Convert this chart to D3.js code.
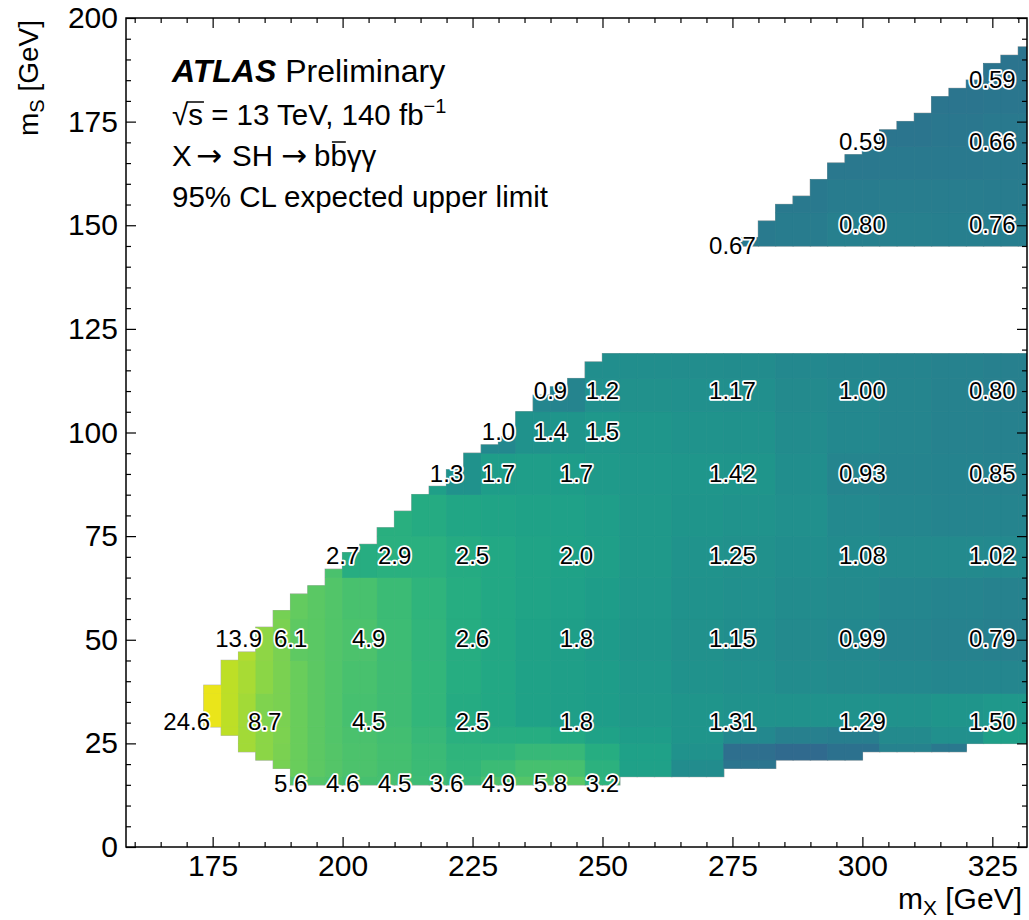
<!DOCTYPE html>
<html>
<head>
<meta charset="utf-8">
<script src="https://cdn.jsdelivr.net/npm/d3@7"></script>
<style>
  body { margin: 0; background: #fff; }
  svg text { font-family: "Liberation Sans", Arimo, Helvetica, Arial, sans-serif; fill: #000; }
</style>
</head>
<body>
<svg id="chart" width="1029" height="920"></svg>
<script>
// ---------------- scan grid (mX columns, GeV) ----------------
const mxEdges = [173.33, 176.67, 180.00, 183.33, 186.67, 190.00, 193.33, 196.67, 200.00, 203.33,
                 206.67, 210.00, 213.33, 216.67, 220.00, 223.33, 226.67, 230.00, 233.33, 236.67,
                 240.00, 243.33, 246.67, 250.00, 253.33, 256.67, 260.00, 263.33, 266.67, 270.00,
                 273.33, 276.67, 280.00, 283.33, 286.67, 290.00, 293.33, 296.67, 300.00, 303.33,
                 306.67, 310.00, 313.33, 316.67, 320.00, 323.33, 326.67, 330.00, 333.33];

// lower block: mS range covered in each mX column
const lowerFrom = [29, 27, 23, 21, 19, 15, 15, 15, 15, 15, 15, 15, 15, 15, 15, 15, 15, 15, 15, 15,
                   15, 15, 15, 15, 17, 17, 17, 17, 17, 17, 19, 19, 19, 21, 21, 21, 21, 21, 23, 23,
                   23, 23, 23, 23, 25, 25, 25, 25];
const lowerTo   = [39, 45, 47, 53, 57, 61, 63, 67, 71, 73, 77, 81, 85, 87, 91, 95, 97, 99, 105, 109,
                   111, 113, 117, 119, 119, 119, 119, 119, 119, 119, 119, 119, 119, 119, 119, 119, 119, 119, 119, 119,
                   119, 119, 119, 119, 119, 119, 119, 119];

// upper block (high mS) columns
const upperEdges = [276.67, 280.00, 283.33, 286.67, 290.00, 293.33, 296.67, 300.00, 303.33,
                    306.67, 310.00, 313.33, 316.67, 320.00, 323.33, 326.67, 330.00, 333.33];
const upperFrom  = [145, 145, 145, 145, 145, 145, 145, 145, 145, 145, 145, 145, 145, 145, 145, 145, 145];
const upperTo    = [147, 151, 155, 157, 161, 165, 167, 169, 173, 175, 177, 181, 183, 185, 189, 191, 193];

// ---------------- expected limit map ----------------
// lower block: limit values on (mX band) x (mS band) tiles
const limitMxBands = [173.33, 176.67, 180.00, 183.33, 186.67, 190.00, 193.33, 196.67, 200.00, 206.67,
                      213.33, 220.00, 226.67, 233.33, 240.00, 246.67, 253.33, 263.33, 273.33, 283.33,
                      293.33, 303.33, 313.33, 323.33, 333.33];
const limitMsBands = [15, 17, 21, 25, 29, 37, 45, 55, 65, 75, 85, 95, 105, 113, 119];
const n = null;
const limitGrid = [
  /* 15-17  */ [n, n, n, n, n, 5.6, 5.4, 5.0, 4.6, 4.5, 4.0, 3.6, 4.9, 5.4, 5.8, 3.2, n, n, n, n, n, n, n, n],
  /* 17-21  */ [n, n, n, n, 8.0, 7.0, 6.0, 5.4, 4.9, 4.4, 3.9, 3.4, 3.9, 4.5, 4.6, 3.0, 1.9, 1.1, 0.6, n, n, n, n, n],
  /* 21-25  */ [n, n, 12.5, 9.8, 8.2, 7.0, 6.0, 5.4, 4.9, 4.4, 3.8, 3.2, 3.2, 3.6, 3.6, 2.6, 1.9, 1.3, 0.5, 0.45, 0.55, 0.85, 0.65, n],
  /* 25-29  */ [n, 16, 12.5, 9.8, 8.4, 7.0, 6.0, 5.3, 4.8, 4.3, 3.6, 2.9, 2.7, 2.6, 2.4, 2.0, 1.7, 1.4, 1.0, 0.8, 0.75, 1.05, 1.2, 1.8],
  /* 29-37  */ [24, 16, 12.5, 8.7, 8.2, 7.0, 6.0, 5.3, 4.5, 4.1, 3.4, 2.5, 2.3, 2.0, 1.8, 1.7, 1.55, 1.4, 1.31, 1.3, 1.29, 1.32, 1.4, 1.50],
  /* 37-45  */ [24, 16, 13, 9.8, 8.2, 7.0, 6.0, 5.3, 4.7, 4.1, 3.4, 2.6, 2.3, 2.0, 1.8, 1.7, 1.5, 1.3, 1.2, 1.1, 1.05, 1.0, 0.95, 0.95],
  /* 45-55  */ [n, n, 13.9, 10, 8.2, 6.1, 5.8, 5.3, 4.9, 4.0, 3.3, 2.6, 2.3, 2.0, 1.8, 1.65, 1.45, 1.25, 1.15, 1.05, 0.99, 0.9, 0.85, 0.79],
  /* 55-65  */ [n, n, n, n, 7.8, 6.5, 5.8, 5.3, 4.7, 3.9, 3.2, 2.6, 2.3, 2.1, 1.9, 1.7, 1.5, 1.3, 1.2, 1.1, 1.03, 0.95, 0.9, 0.85],
  /* 65-75  */ [n, n, n, n, n, n, n, 4.8, 2.7, 2.9, 2.9, 2.5, 2.3, 2.1, 2.0, 1.8, 1.55, 1.35, 1.25, 1.15, 1.08, 1.05, 1.03, 1.02],
  /* 75-85  */ [n, n, n, n, n, n, n, n, n, 2.8, 2.5, 2.2, 2.1, 2.0, 1.9, 1.75, 1.55, 1.4, 1.35, 1.2, 1.02, 0.95, 0.9, 0.9],
  /* 85-95  */ [n, n, n, n, n, n, n, n, n, n, 1.8, 1.3, 1.7, 1.75, 1.7, 1.6, 1.5, 1.45, 1.42, 1.15, 0.93, 0.9, 0.87, 0.85],
  /* 95-105 */ [n, n, n, n, n, n, n, n, n, n, n, n, 1.0, 1.3, 1.4, 1.5, 1.45, 1.35, 1.3, 1.1, 1.0, 0.92, 0.85, 0.82],
  /* 105-113*/ [n, n, n, n, n, n, n, n, n, n, n, n, n, 0.95, 0.9, 1.2, 1.25, 1.2, 1.17, 1.05, 1.00, 0.92, 0.85, 0.80],
  /* 113-119*/ [n, n, n, n, n, n, n, n, n, n, n, n, n, n, n, 1.15, 1.15, 1.12, 1.1, 1.0, 0.95, 0.9, 0.85, 0.8]
];
// upper block tiles
const upperMxBands = [276.67, 283.33, 293.33, 303.33, 313.33, 323.33, 333.33];
const upperMsBands = [145, 153, 161, 169, 177, 185, 195];
const upperGrid = [
  /* 145-153 */ [0.68, 0.72, 0.80, 0.80, 0.78, 0.76],
  /* 153-161 */ [n, 0.66, 0.72, 0.74, 0.73, 0.72],
  /* 161-169 */ [n, n, 0.64, 0.66, 0.67, 0.68],
  /* 169-177 */ [n, n, n, 0.60, 0.63, 0.66],
  /* 177-185 */ [n, n, n, n, 0.60, 0.62],
  /* 185-195 */ [n, n, n, n, n, 0.59]
];

// printed limits at the scan points
const labelMx   = [170, 185, 205, 225, 245, 275, 300, 325,
                   180, 190, 205, 225, 245, 275, 300, 325,
                   200, 210, 225, 245, 275, 300, 325,
                   220, 230, 245, 275, 300, 325,
                   230, 240, 250,
                   240, 250, 275, 300, 325,
                   190, 200, 210, 220, 230, 240, 250,
                   275, 300, 325, 300, 325, 325];
const labelMs   = [30, 30, 30, 30, 30, 30, 30, 30,
                   50, 50, 50, 50, 50, 50, 50, 50,
                   70, 70, 70, 70, 70, 70, 70,
                   90, 90, 90, 90, 90, 90,
                   100, 100, 100,
                   110, 110, 110, 110, 110,
                   15, 15, 15, 15, 15, 15, 15,
                   145, 150, 150, 170, 170, 185];
const labelText = ["24.6", "8.7", "4.5", "2.5", "1.8", "1.31", "1.29", "1.50",
                   "13.9", "6.1", "4.9", "2.6", "1.8", "1.15", "0.99", "0.79",
                   "2.7", "2.9", "2.5", "2.0", "1.25", "1.08", "1.02",
                   "1.3", "1.7", "1.7", "1.42", "0.93", "0.85",
                   "1.0", "1.4", "1.5",
                   "0.9", "1.2", "1.17", "1.00", "0.80",
                   "5.6", "4.6", "4.5", "3.6", "4.9", "5.8", "3.2",
                   "0.67", "0.80", "0.76", "0.59", "0.66", "0.59"];

// axes
const xDomain = [158.33, 331.67];
const yDomain = [0, 200];
const xMajorTicks = [175, 200, 225, 250, 275, 300, 325];
const yMajorTicks = [0, 25, 50, 75, 100, 125, 150, 175, 200];

// ---------------- drawing ----------------
const plot = { left: 126, right: 1027, top: 18, bottom: 847 };
const svg = d3.select("#chart");

const x = d3.scaleLinear().domain(xDomain).range([plot.left, plot.right]);
const y = d3.scaleLinear().domain(yDomain).range([plot.bottom, plot.top]);
const color = d3.scaleSequentialLog(d3.interpolateViridis).domain([0.05, 30]);

svg.append("defs").append("clipPath").attr("id", "plotClip")
  .append("rect").attr("x", plot.left).attr("y", plot.top)
  .attr("width", plot.right - plot.left).attr("height", plot.bottom - plot.top);

const mapLayer = svg.append("g").attr("clip-path", "url(#plotClip)");
const outlineLayer = mapLayer.append("g");
const cellLayer = mapLayer.append("g");

function drawBlock(edges, from, to, mxBands, msBands, grid) {
  for (let i = 0; i < from.length; i++) {
    const x0 = edges[i], x1 = edges[i + 1];
    // thin grey rim around the covered region
    outlineLayer.append("rect")
      .attr("x", x(x0) - 0.7).attr("y", y(to[i]) - 0.7)
      .attr("width", x(x1) - x(x0) + 1.4).attr("height", y(from[i]) - y(to[i]) + 1.4)
      .attr("fill", "#b0b0b0");
    const ci = d3.bisectRight(mxBands, (x0 + x1) / 2) - 1;
    for (let b = 0; b < msBands.length - 1; b++) {
      const lo = Math.max(from[i], msBands[b]);
      const hi = Math.min(to[i], msBands[b + 1]);
      if (hi <= lo) continue;
      const v = grid[b][ci];
      if (v == null) continue;
      cellLayer.append("rect")
        .attr("x", x(x0)).attr("y", y(hi))
        .attr("width", x(x1) - x(x0)).attr("height", y(lo) - y(hi))
        .attr("fill", color(v)).attr("stroke", color(v)).attr("stroke-width", 0.6);
    }
  }
}
drawBlock(mxEdges, lowerFrom, lowerTo, limitMxBands, limitMsBands, limitGrid);
drawBlock(upperEdges, upperFrom, upperTo, upperMxBands, upperMsBands, upperGrid);

// value labels with white halo
svg.append("g").selectAll("text")
  .data(labelText.map((t, i) => ({ t, mx: labelMx[i], ms: labelMs[i] })))
  .join("text")
  .attr("x", d => x(d.mx)).attr("y", d => y(d.ms) - 1)
  .attr("dy", "0.36em")
  .attr("text-anchor", "middle")
  .attr("font-size", 24)
  .attr("stroke", "#fff").attr("stroke-width", 3.5).attr("stroke-linejoin", "round")
  .attr("paint-order", "stroke")
  .text(d => d.t);

// ---------------- axes: inward ticks on all four sides ----------------
const xMinor = d3.range(160, 332, 5).filter(v => !xMajorTicks.includes(v));
const yMinor = d3.range(0, 201, 5).filter(v => !yMajorTicks.includes(v));

function styleAxis(g) {
  g.select(".domain").remove();
  g.selectAll("line").attr("stroke", "#000").attr("stroke-width", 1.2);
  g.attr("font-family", null).attr("font-size", 30);
}
svg.append("g").attr("transform", `translate(0,${plot.bottom})`)
  .call(d3.axisBottom(x).tickValues(xMajorTicks).tickSize(-10).tickPadding(8).tickFormat(d3.format("d")))
  .call(styleAxis);
svg.append("g").attr("transform", `translate(0,${plot.bottom})`)
  .call(d3.axisBottom(x).tickValues(xMinor).tickSize(-5).tickFormat(""))
  .call(styleAxis);
svg.append("g").attr("transform", `translate(0,${plot.top})`)
  .call(d3.axisTop(x).tickValues(xMajorTicks).tickSize(-10).tickFormat(""))
  .call(styleAxis);
svg.append("g").attr("transform", `translate(0,${plot.top})`)
  .call(d3.axisTop(x).tickValues(xMinor).tickSize(-5).tickFormat(""))
  .call(styleAxis);
svg.append("g").attr("transform", `translate(${plot.left},0)`)
  .call(d3.axisLeft(y).tickValues(yMajorTicks).tickSize(-10).tickPadding(8).tickFormat(d3.format("d")))
  .call(styleAxis);
svg.append("g").attr("transform", `translate(${plot.left},0)`)
  .call(d3.axisLeft(y).tickValues(yMinor).tickSize(-5).tickFormat(""))
  .call(styleAxis);
svg.append("g").attr("transform", `translate(${plot.right},0)`)
  .call(d3.axisRight(y).tickValues(yMajorTicks).tickSize(-10).tickFormat(""))
  .call(styleAxis);
svg.append("g").attr("transform", `translate(${plot.right},0)`)
  .call(d3.axisRight(y).tickValues(yMinor).tickSize(-5).tickFormat(""))
  .call(styleAxis);

svg.append("rect").attr("x", plot.left).attr("y", plot.top)
  .attr("width", plot.right - plot.left).attr("height", plot.bottom - plot.top)
  .attr("fill", "none").attr("stroke", "#000").attr("stroke-width", 1.5);

// axis titles
const xTitle = svg.append("text").attr("x", 1022).attr("y", 909)
  .attr("text-anchor", "end").attr("font-size", 30);
xTitle.append("tspan").text("m");
xTitle.append("tspan").attr("font-size", 21).attr("dy", 6).text("X");
xTitle.append("tspan").attr("dy", -6).text(" [GeV]");

const yTitle = svg.append("text").attr("transform", `translate(38,20) rotate(-90)`)
  .attr("text-anchor", "end").attr("font-size", 28);
yTitle.append("tspan").text("m");
yTitle.append("tspan").attr("font-size", 20).attr("dy", 6).text("S");
yTitle.append("tspan").attr("dy", -6).text(" [GeV]");

// ---------------- annotation block ----------------
const info = svg.append("g").attr("font-size", 29.5);
const l1 = info.append("text").attr("x", 172).attr("y", 82).attr("font-size", 32);
l1.append("tspan").attr("font-weight", "bold").attr("font-style", "italic").text("ATLAS");
l1.append("tspan").text(" Preliminary");

const l2 = info.append("text").attr("x", 172).attr("y", 125);
l2.append("tspan").text("√s = 13 TeV, 140 fb");
l2.append("tspan").attr("font-size", 20).attr("dy", -12).text("−1");
{
  const node = l2.node();
  const rootEnd = node.getEndPositionOfChar(0).x;
  const sEnd = node.getEndPositionOfChar(1).x;
  info.append("line").attr("x1", rootEnd - 1.5).attr("x2", sEnd + 1)
    .attr("y1", 125 - 23).attr("y2", 125 - 23).attr("stroke", "#000").attr("stroke-width", 1.5);
}

const l3 = info.append("text").attr("y", 166);
l3.append("tspan").attr("x", 172).text("X");
l3.append("tspan").attr("x", 196).attr("font-family", "DejaVu Sans").attr("font-size", 31).text("→");
l3.append("tspan").attr("x", 232).text("SH");
l3.append("tspan").attr("x", 281).attr("font-family", "DejaVu Sans").attr("font-size", 31).text("→");
const bbg = l3.append("tspan").attr("x", 314).text("bbγγ");
{
  const node = l3.node();
  // second b of "bbγγ": characters are X, →, S, H, →, b, b, γ, γ
  const b0 = node.getStartPositionOfChar(6).x;
  const b1 = node.getEndPositionOfChar(6).x;
  info.append("line").attr("x1", b0 + 1.5).attr("x2", b1 - 1)
    .attr("y1", 166 - 24).attr("y2", 166 - 24).attr("stroke", "#000").attr("stroke-width", 1.5);
}

info.append("text").attr("x", 172).attr("y", 207).text("95% CL expected upper limit");
</script>
</body>
</html>
